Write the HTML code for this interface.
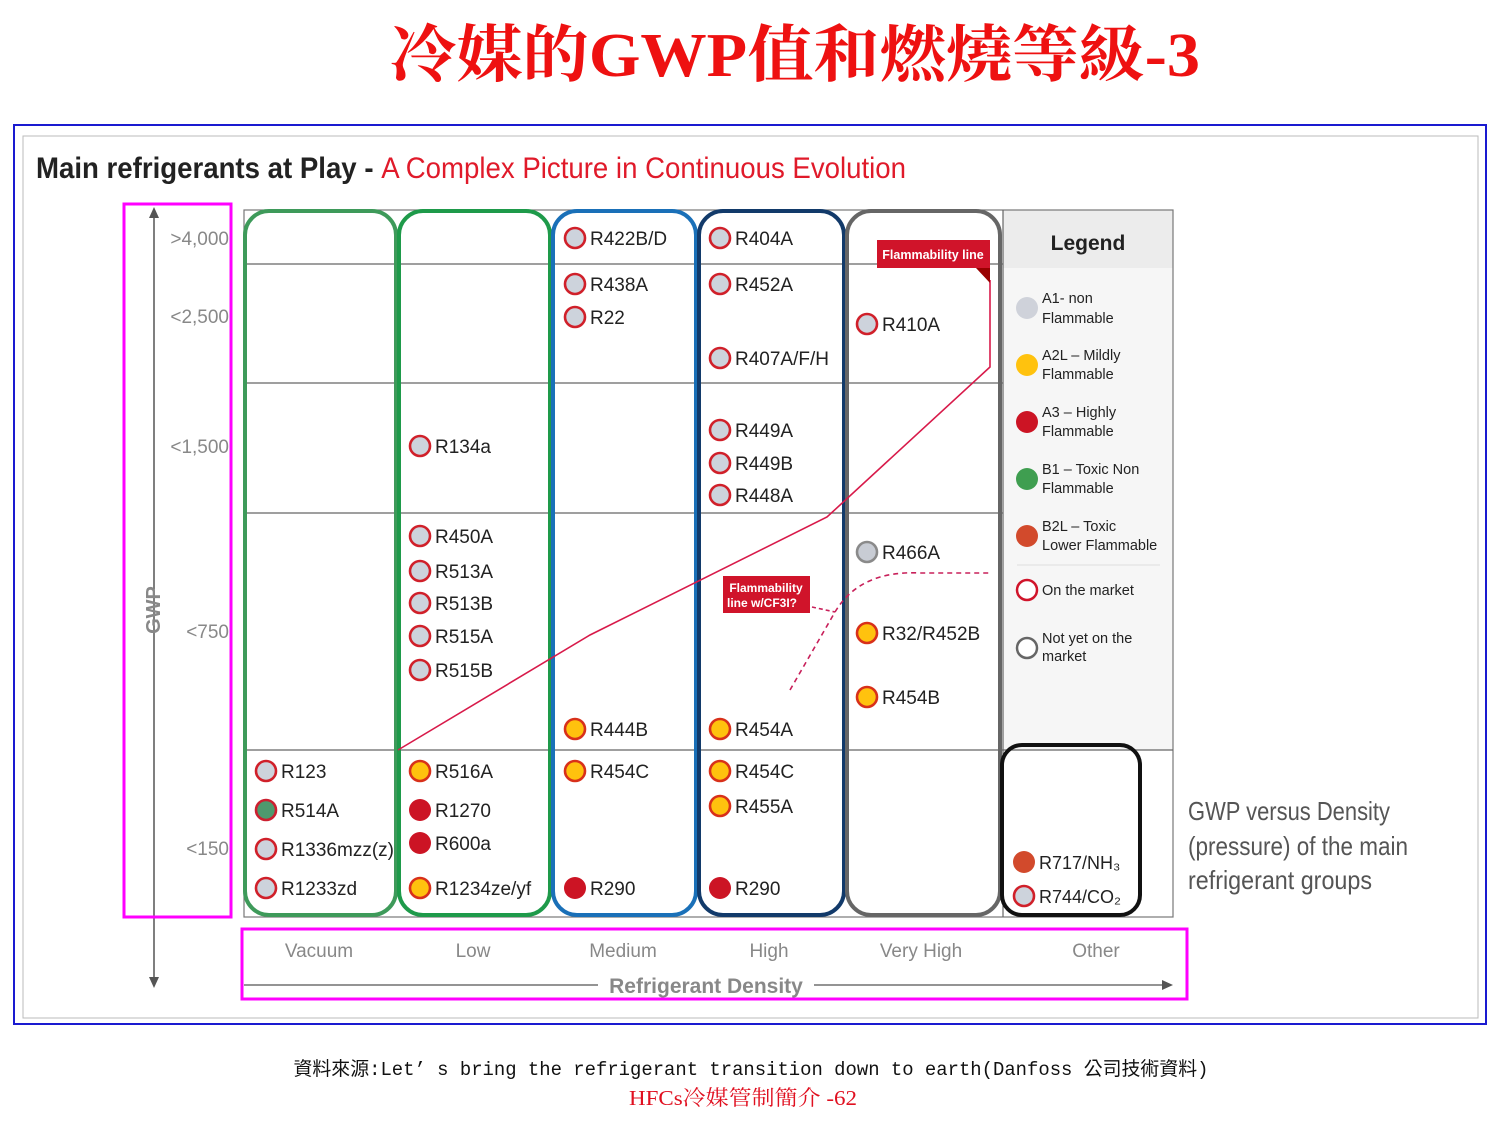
<!DOCTYPE html>
<html><head><meta charset="utf-8"><style>
html,body{margin:0;padding:0;background:#fff;width:1500px;height:1125px;overflow:hidden}
svg{display:block}
.l{font-family:"Liberation Sans",sans-serif;font-size:19px;fill:#222}
.ax{font-family:"Liberation Sans",sans-serif;font-size:19px;fill:#888}
.lg{font-family:"Liberation Sans",sans-serif;font-size:14.5px;fill:#222}
</style></head><body>
<svg width="1500" height="1125" viewBox="0 0 1500 1125" xmlns="http://www.w3.org/2000/svg">
<defs>
<g id="a1"><circle r="10" fill="#cdd3dc" stroke="#d0202a" stroke-width="2.6"/></g>
<g id="a2"><circle r="10" fill="#ffc20e" stroke="#d8301a" stroke-width="2.6"/></g>
<g id="a3"><circle r="11" fill="#cc1424"/></g>
<g id="b1"><circle r="10" fill="#4e9a6e" stroke="#cc2030" stroke-width="2.6"/></g>
<g id="ny"><circle r="10" fill="#c8ccd4" stroke="#8a8a8a" stroke-width="2.6"/></g>
<g id="b2"><circle r="11" fill="#d24a2c"/></g>
</defs>
<!-- title -->
<text x="795" y="76" text-anchor="middle" font-family="'Liberation Serif','Noto Serif CJK SC',serif" font-weight="bold" font-size="62" fill="#ee1111" textLength="810" lengthAdjust="spacingAndGlyphs">冷媒的GWP值和燃燒等級-3</text>
<!-- frames -->
<rect x="14" y="125" width="1472" height="899" fill="none" stroke="#1a1ad0" stroke-width="2"/>
<rect x="23" y="136" width="1455" height="882" fill="none" stroke="#bbb" stroke-width="1"/>
<text x="36" y="178" font-family="'Liberation Sans',sans-serif" font-weight="bold" font-size="30" textLength="870" lengthAdjust="spacingAndGlyphs"><tspan fill="#222">Main refrigerants at Play - </tspan><tspan fill="#e01a2a" font-weight="normal">A Complex Picture in Continuous Evolution</tspan></text>
<!-- legend bg -->
<rect x="1003" y="210" width="170" height="540" fill="#f6f6f6"/>
<rect x="1003" y="210" width="170" height="58" fill="#ececec"/>
<!-- grid -->
<rect x="244" y="210" width="929" height="707" fill="none" stroke="#777" stroke-width="1.2"/>
<g stroke="#666" stroke-width="1.2">
<line x1="244" y1="264" x2="1003" y2="264"/>
<line x1="244" y1="383" x2="1003" y2="383"/>
<line x1="244" y1="513" x2="1003" y2="513"/>
<line x1="244" y1="750" x2="1173" y2="750"/>
<line x1="1003" y1="210" x2="1003" y2="917"/>
</g>
<!-- columns -->
<rect x="245" y="211" width="151" height="704" rx="24" fill="none" stroke="#3e9a5a" stroke-width="4"/>
<rect x="399" y="211" width="151" height="704" rx="24" fill="none" stroke="#1e9a4a" stroke-width="4"/>
<rect x="553" y="211" width="143" height="704" rx="24" fill="none" stroke="#1a70b8" stroke-width="4"/>
<rect x="699" y="211" width="145" height="704" rx="24" fill="none" stroke="#123a6a" stroke-width="4"/>
<rect x="847" y="211" width="153" height="704" rx="24" fill="none" stroke="#666" stroke-width="4"/>
<rect x="1002" y="745" width="138" height="170" rx="20" fill="none" stroke="#111" stroke-width="4"/>
<!-- flammability line -->
<polyline points="398,750 590,635 827,517 990,367 990,280" fill="none" stroke="#d81a4a" stroke-width="1.6"/>
<rect x="877" y="240" width="113" height="28" fill="#d0142a"/>
<polygon points="976,268 990,268 990,283" fill="#900"/>
<text x="933" y="259" text-anchor="middle" font-family="'Liberation Sans',sans-serif" font-weight="bold" font-size="12.5" fill="#fff">Flammability line</text>
<path d="M790,690 L835,612 Q860,570 920,573 L990,573" fill="none" stroke="#c8205a" stroke-width="1.6" stroke-dasharray="5,4"/>
<line x1="812" y1="607" x2="835" y2="612" stroke="#c8205a" stroke-width="1.6" stroke-dasharray="4,3"/>
<rect x="723" y="576" width="87" height="37" fill="#d0142a"/>
<text x="766" y="592" text-anchor="middle" font-family="'Liberation Sans',sans-serif" font-weight="bold" font-size="12" fill="#fff">Flammability</text>
<text x="762" y="607" text-anchor="middle" font-family="'Liberation Sans',sans-serif" font-weight="bold" font-size="12" fill="#fff">line w/CF3I?</text>
<!-- markers -->
<g class="l">
<use href="#a1" x="266" y="771"/><text x="281" y="778">R123</text>
<use href="#b1" x="266" y="810"/><text x="281" y="817">R514A</text>
<use href="#a1" x="266" y="849"/><text x="281" y="856">R1336mzz(z)</text>
<use href="#a1" x="266" y="888"/><text x="281" y="895">R1233zd</text>

<use href="#a1" x="420" y="446"/><text x="435" y="453">R134a</text>
<use href="#a1" x="420" y="536"/><text x="435" y="543">R450A</text>
<use href="#a1" x="420" y="571"/><text x="435" y="578">R513A</text>
<use href="#a1" x="420" y="603"/><text x="435" y="610">R513B</text>
<use href="#a1" x="420" y="636"/><text x="435" y="643">R515A</text>
<use href="#a1" x="420" y="670"/><text x="435" y="677">R515B</text>
<use href="#a2" x="420" y="771"/><text x="435" y="778">R516A</text>
<use href="#a3" x="420" y="810"/><text x="435" y="817">R1270</text>
<use href="#a3" x="420" y="843"/><text x="435" y="850">R600a</text>
<use href="#a2" x="420" y="888"/><text x="435" y="895">R1234ze/yf</text>

<use href="#a1" x="575" y="238"/><text x="590" y="245">R422B/D</text>
<use href="#a1" x="575" y="284"/><text x="590" y="291">R438A</text>
<use href="#a1" x="575" y="317"/><text x="590" y="324">R22</text>
<use href="#a2" x="575" y="729"/><text x="590" y="736">R444B</text>
<use href="#a2" x="575" y="771"/><text x="590" y="778">R454C</text>
<use href="#a3" x="575" y="888"/><text x="590" y="895">R290</text>

<use href="#a1" x="720" y="238"/><text x="735" y="245">R404A</text>
<use href="#a1" x="720" y="284"/><text x="735" y="291">R452A</text>
<use href="#a1" x="720" y="358"/><text x="735" y="365">R407A/F/H</text>
<use href="#a1" x="720" y="430"/><text x="735" y="437">R449A</text>
<use href="#a1" x="720" y="463"/><text x="735" y="470">R449B</text>
<use href="#a1" x="720" y="495"/><text x="735" y="502">R448A</text>
<use href="#a2" x="720" y="729"/><text x="735" y="736">R454A</text>
<use href="#a2" x="720" y="771"/><text x="735" y="778">R454C</text>
<use href="#a2" x="720" y="806"/><text x="735" y="813">R455A</text>
<use href="#a3" x="720" y="888"/><text x="735" y="895">R290</text>

<use href="#a1" x="867" y="324"/><text x="882" y="331">R410A</text>
<use href="#ny" x="867" y="552"/><text x="882" y="559">R466A</text>
<use href="#a2" x="867" y="633"/><text x="882" y="640">R32/R452B</text>
<use href="#a2" x="867" y="697"/><text x="882" y="704">R454B</text>

<use href="#b2" x="1024" y="862"/><text x="1039" y="869" font-size="18">R717/NH₃</text>
<use href="#a1" x="1024" y="896"/><text x="1039" y="903" font-size="18">R744/CO₂</text>
</g>
<!-- legend -->
<text x="1088" y="250" text-anchor="middle" font-family="'Liberation Sans',sans-serif" font-weight="bold" font-size="21" fill="#222">Legend</text>
<g class="lg">
<circle cx="1027" cy="308" r="11" fill="#cfd2da"/><text x="1042" y="303">A1- non</text><text x="1042" y="323">Flammable</text>
<circle cx="1027" cy="365" r="11" fill="#ffc20e"/><text x="1042" y="360">A2L – Mildly</text><text x="1042" y="379">Flammable</text>
<circle cx="1027" cy="422" r="11" fill="#cc1424"/><text x="1042" y="417">A3 – Highly</text><text x="1042" y="436">Flammable</text>
<circle cx="1027" cy="479" r="11" fill="#3f9e50"/><text x="1042" y="474">B1 – Toxic Non</text><text x="1042" y="493">Flammable</text>
<circle cx="1027" cy="536" r="11" fill="#d24a2c"/><text x="1042" y="531">B2L – Toxic</text><text x="1042" y="550">Lower Flammable</text>
<line x1="1017" y1="565" x2="1160" y2="565" stroke="#ddd"/>
<circle cx="1027" cy="590" r="10" fill="#fff" stroke="#d0142a" stroke-width="2.5"/><text x="1042" y="595">On the market</text>
<circle cx="1027" cy="648" r="10" fill="#fff" stroke="#666" stroke-width="2.5"/><text x="1042" y="643">Not yet on the</text><text x="1042" y="661">market</text>
</g>
<!-- y axis -->
<line x1="154" y1="215" x2="154" y2="980" stroke="#555" stroke-width="1.5"/>
<polygon points="154,207 149,218 159,218" fill="#555"/>
<polygon points="154,988 149,977 159,977" fill="#555"/>
<text transform="translate(160,610) rotate(-90)" text-anchor="middle" font-family="'Liberation Sans',sans-serif" font-weight="bold" font-size="20" fill="#888">GWP</text>
<g class="ax" text-anchor="end">
<text x="229" y="245">&gt;4,000</text>
<text x="229" y="323">&lt;2,500</text>
<text x="229" y="453">&lt;1,500</text>
<text x="229" y="638">&lt;750</text>
<text x="229" y="855">&lt;150</text>
</g>
<!-- x axis -->
<g class="ax" text-anchor="middle">
<text x="319" y="957">Vacuum</text>
<text x="473" y="957">Low</text>
<text x="623" y="957">Medium</text>
<text x="769" y="957">High</text>
<text x="921" y="957">Very High</text>
<text x="1096" y="957">Other</text>
</g>
<line x1="244" y1="985" x2="598" y2="985" stroke="#555" stroke-width="1.3"/>
<line x1="814" y1="985" x2="1165" y2="985" stroke="#555" stroke-width="1.3"/>
<polygon points="1173,985 1162,980 1162,990" fill="#555"/>
<text x="706" y="993" text-anchor="middle" font-family="'Liberation Sans',sans-serif" font-weight="bold" font-size="21" fill="#888">Refrigerant Density</text>
<!-- right text -->
<g font-family="'Liberation Sans',sans-serif" font-size="26" fill="#555">
<text x="1188" y="820" textLength="202" lengthAdjust="spacingAndGlyphs">GWP versus Density</text>
<text x="1188" y="855" textLength="220" lengthAdjust="spacingAndGlyphs">(pressure) of the main</text>
<text x="1188" y="889" textLength="184" lengthAdjust="spacingAndGlyphs">refrigerant groups</text>
</g>
<!-- magenta boxes -->
<rect x="124" y="204" width="107" height="713" fill="none" stroke="#ff00ff" stroke-width="3"/>
<rect x="242" y="929" width="945" height="70" fill="none" stroke="#ff00ff" stroke-width="3"/>
<!-- footer -->
<text x="751" y="1075" text-anchor="middle" font-family="'Liberation Mono','Noto Sans CJK TC',monospace" font-size="19" fill="#111" textLength="915" lengthAdjust="spacingAndGlyphs">資料來源:Let’ s bring the refrigerant transition down to earth(Danfoss 公司技術資料)</text>
<text x="743" y="1105" text-anchor="middle" font-family="'Liberation Serif','Noto Serif CJK SC',serif" font-size="21" fill="#e01020" textLength="228" lengthAdjust="spacingAndGlyphs">HFCs冷媒管制簡介 -62</text>
</svg>
</body></html>
